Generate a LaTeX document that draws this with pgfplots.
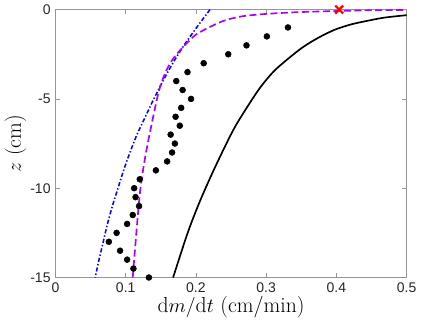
\documentclass[border=0pt]{standalone}
\usepackage{pgfplots}
\pgfplotsset{compat=1.18}
\usepackage{fontspec}
\setsansfont{Liberation Sans}

\definecolor{axgray}{RGB}{150,150,150}
\definecolor{violetline}{RGB}{170,0,255}

% measured data (dots)
\pgfplotstableread{
x z
0.331 -1
0.301 -1.5
0.272 -2
0.246 -2.5
0.211 -3
0.188 -3.5
0.172 -4
0.181 -4.5
0.193 -5
0.179 -5.5
0.171 -6
0.177 -6.5
0.164 -7
0.170 -7.5
0.166 -8
0.159 -8.5
0.143 -9
0.120 -9.5
0.112 -10
0.114 -10.5
0.119 -11
0.110 -11.5
0.102 -12
0.087 -12.5
0.076 -13
0.092 -13.5
0.102 -14
0.111 -14.5
0.133 -15
}\dots

\pgfplotstableread{
x z
0.1675 -15
0.1885 -12.47
0.2065 -10.65
0.2275 -8.8
0.2525 -6.79
0.270 -5.64
0.291 -4.39
0.310 -3.49
0.3285 -2.84
0.352 -2.11
0.375 -1.56
0.398 -1.12
0.4217 -0.82
0.445 -0.62
0.468 -0.45
0.500 -0.31
}\blackcurve

\pgfplotstableread{
x z
0.2200 0
0.2010 -1
0.1830 -2
0.1670 -3
0.1530 -4
0.1400 -5
0.1280 -6
0.1160 -7
0.1060 -8
0.0970 -9
0.0890 -10
0.0810 -11
0.0740 -12
0.0680 -13
0.0620 -14
0.0565 -15
}\bluecurve

\pgfplotstableread{
x z
0.110 -15
0.116 -12.1
0.121 -10
0.128 -8.2
0.137 -6.4
0.147 -4.6
0.156 -3.57
0.1675 -2.75
0.184 -2.0
0.200 -1.4
0.221 -0.95
0.240 -0.62
0.265 -0.38
0.300 -0.24
0.347 -0.14
0.400 -0.08
0.445 -0.04
0.500 -0.02
}\violetcurve

\begin{document}
\begin{tikzpicture}
\begin{axis}[
    scale only axis,
    width=251pt, height=191.5pt,
    xmin=0, xmax=0.5, ymin=-15, ymax=0,
    xtick={0,0.1,0.2,0.3,0.4,0.5},
    ytick={-15,-10,-5,0},
    tick align=inside,
    major tick length=3pt,
    axis line style={axgray, line width=0.5pt},
    tick style={axgray, line width=0.5pt},
    ticklabel style={font=\sffamily\fontsize{10}{12}\selectfont, text=black!85},
    /pgf/number format/assume math mode=true,
    xticklabel style={/pgf/number format/fixed},
    xlabel={$\mathrm{d}m/\mathrm{d}t$ (cm/min)},
    ylabel={$z$ (cm)},
    label style={font=\fontsize{15.5}{18}\selectfont},
    xlabel style={yshift=4pt},
    ylabel style={yshift=-4pt},
    clip mode=individual,
]
\addplot[black, line width=1.2pt, smooth] table[x=x, y=z] {\blackcurve};
\addplot[blue, line width=1.1pt, smooth, dash pattern=on 3pt off 1.5pt on 1pt off 1.5pt] table[x=x, y=z] {\bluecurve};
\addplot[violetline, line width=1.2pt, smooth, dash pattern=on 5pt off 2.5pt] table[x=x, y=z] {\violetcurve};
\addplot[only marks, mark=*, mark size=2.1pt, black] table[x=x, y=z] {\dots};
\addplot[only marks, mark=x, mark size=4pt, red, mark options={line width=1.6pt}] coordinates {(0.404,0)};
\end{axis}
\end{tikzpicture}
\end{document}
